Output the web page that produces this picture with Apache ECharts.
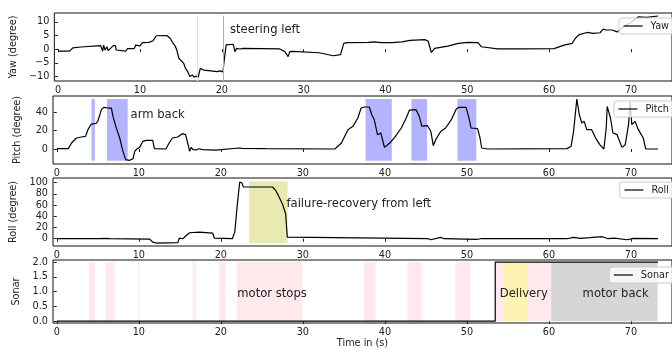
<!DOCTYPE html>
<html><head><meta charset="utf-8">
<script src="https://cdn.jsdelivr.net/npm/echarts@6/dist/echarts.min.js"></script>
<style>html,body{margin:0;padding:0;background:#fff}#c{width:672px;height:349px}</style>
</head><body><div id="c"></div>
<script>
// ---------------- data ----------------
const xTicks = [0, 10, 20, 30, 40, 50, 60, 70];
const yawTicks = [-10, -5, 0, 5, 10];
const pitchTicks = [0, 20, 40];
const rollTicks = [0, 20, 40, 60, 80, 100];
const sonarTicks = [0, 0.5, 1.0, 1.5, 2.0];

const yawData = [[0,-0.67],[1.4,-0.7],[1.8,0.5],[2.8,0.8],[5.2,1.3],[5.44,-0.7],[5.56,1.5],[5.73,-0.3],[5.97,0.9],[6.13,-0.55],[6.46,0.5],[6.74,1.3],[7.0,1.3],[7.1,-0.3],[8.28,-0.67],[8.48,0.2],[9.29,0.2],[9.49,1.5],[10.0,1.2],[10.3,2.4],[11.1,2.5],[11.6,3.1],[12.0,4.9],[13.3,5.0],[13.7,3.9],[14.06,2.1],[14.3,1.2],[14.5,-0.3],[14.75,-3.3],[14.95,-3.9],[15.35,-5.2],[15.56,-7.0],[15.84,-8.2],[16.09,-10.0],[16.4,-9.4],[16.6,-10.2],[16.85,-9.8],[17.1,-10.4],[17.2,-10.0],[17.37,-7.0],[17.78,-7.6],[18.39,-7.8],[19.4,-8.2],[19.8,-7.9],[20.13,-8.3],[20.3,-3.9],[20.53,1.6],[21.4,1.8],[21.6,-0.9],[21.8,0.3],[22.2,0.06],[22.6,0.3],[27.1,0.1],[27.7,-0.9],[28.1,-2.7],[28.3,-0.9],[28.7,-0.8],[31.9,-1.3],[33.6,-2.4],[34.5,-2.0],[34.9,2.1],[35.3,2.4],[37.9,2.5],[38.6,2.7],[39.5,2.4],[40.8,2.4],[42.0,2.7],[43.0,3.2],[44.8,3.5],[45.2,3.0],[45.6,-1.2],[46.0,0.3],[47.6,1.1],[48.9,2.1],[50.1,2.5],[51.3,2.4],[51.7,0.9],[53.7,0.1],[56.5,0.1],[60.6,0.2],[61.8,1.5],[62.8,2.1],[63.2,4.0],[63.6,5.2],[64.6,6.1],[65.4,5.8],[66.2,6.0],[66.6,7.3],[67.0,7.0],[67.7,7.0],[68.3,6.3],[69.1,8.2],[70.3,10.4],[70.9,11.8],[71.9,11.6],[73.3,12.1]];

const pitchData = [[0,0.4],[1.4,0.4],[1.8,6.5],[2.4,11.9],[3.0,13.0],[3.5,13.7],[3.8,20.9],[4.2,27.0],[4.8,27.7],[5.0,30],[5.44,42.5],[5.73,45.0],[6.26,44.3],[6.66,44.3],[6.86,35.0],[7.26,22.7],[7.67,11.9],[8.07,-2.5],[8.4,-11.5],[8.9,-12.2],[9.3,-10.4],[9.5,-2.5],[9.77,0],[10.1,1.8],[10.5,8.3],[10.9,9.4],[11.7,9.4],[11.9,0.4],[13.3,0],[13.7,6.5],[14.1,11.9],[14.75,13.0],[14.95,11.2],[15.3,16.6],[15.7,15.5],[15.96,6.5],[16.2,-2.5],[16.4,1.8],[16.6,-0.7],[16.8,0.8],[17.0,-1.0],[17.3,0.3],[17.8,-0.7],[19.4,-1.1],[19.6,0],[22.2,1.1],[22.4,2.5],[22.6,0.7],[25.5,0.4],[33.6,0],[33.9,0],[34.7,6.5],[35.5,20.9],[36.1,24.5],[36.7,33.5],[37.1,44.3],[37.5,45.4],[38.1,45.4],[38.4,37],[38.7,31.7],[39.1,15.5],[39.3,13.7],[39.5,17.3],[39.95,1.8],[40.6,6.5],[41.2,12.6],[42.0,22.7],[42.6,33.5],[43.0,42.1],[43.8,42.5],[44.2,35],[44.5,24.8],[45.2,25.2],[45.6,19],[45.9,3.6],[46.2,10.1],[46.8,19],[47.4,22.7],[48.1,31.7],[48.7,43.2],[49.0,45],[49.9,45],[50.3,31.7],[50.5,22.7],[51.3,22],[51.6,11.9],[51.8,1.1],[52.5,0],[62.2,0.4],[62.7,2.9],[63.0,19],[63.4,54],[63.7,37],[64.0,28],[64.3,29.9],[64.6,20.9],[65.2,20.9],[65.8,10.1],[66.2,4.7],[66.7,0],[66.98,22.7],[67.1,46],[67.5,33.5],[67.8,17.3],[68.3,15.5],[68.9,1.8],[69.3,4.7],[69.7,26.3],[69.9,51.5],[70.1,26.3],[70.5,29.9],[70.9,20.9],[71.5,11.9],[71.8,0],[73.3,0]];

const rollData = [[0,0],[5.3,0],[5.44,-1.8],[5.73,0.6],[6.5,0],[11.3,-0.6],[11.7,-6],[12.1,-7.7],[14.75,-7.1],[14.95,1.2],[15.15,2.4],[15.4,0],[15.7,4.8],[16.2,10.7],[17.4,11.9],[19.0,10.1],[19.2,1.2],[19.4,0],[21.4,0],[21.7,11.9],[22.0,59.5],[22.3,101],[22.55,100],[22.75,92.3],[22.95,95],[23.2,92.3],[26.3,92.3],[26.7,86],[27.1,74.4],[27.5,62.5],[27.9,44.6],[28.1,3],[28.3,0],[45.3,0],[45.6,-1.8],[46.8,2.4],[47.2,0],[51.3,-1.0],[51.7,0],[62.2,0],[63.0,2.4],[63.8,0.6],[65.0,1.8],[66.5,3.6],[67.2,0],[68.0,1.2],[69.5,-1.8],[70.3,0.6],[73.3,0]];

const sonarData = [[0,0],[53.45,0],[53.45,2],[73.3,2]];

// highlighted intervals [start, end]
const steerLines = [16.97, 20.21];
const pitchSpans = [[4.23,4.64],[6.13,8.64],[37.65,40.84],[43.23,45.13],[48.85,51.15]];
const rollSpans = [[23.45,28.14]];
const motorStopSpans = [[3.91,4.64],[5.97,7.02],[9.9,10.0],[16.57,16.97],[19.8,20.53],[21.95,29.92],[37.44,38.86],[42.74,44.44],[48.57,50.39],[53.46,54.51],[57.43,60.26]];
const deliverySpans = [[54.51,57.43]];
const motorBackSpans = [[60.26,73.24]];

// ---------------- chart ----------------
const FONT = 'DejaVu Sans';
const TXT = '#222';
const fmtMinus = v => String(v).replace('-', '\u2212');

const tops = [13, 96, 178, 260];
const grid = tops.map(t => ({left:53, top:t, width:622, height:68, show:true, borderColor:'#111', borderWidth:1, backgroundColor:'transparent'}));

function xa(i, name) {
  const o = {type:'value', gridIndex:i, min:-0.46, max:75,
    axisLine:{show:false}, splitLine:{show:false},
    axisTick:{show:true, length:3, customValues:xTicks, lineStyle:{color:'#222'}},
    axisLabel:{customValues:xTicks, fontSize:9.7, color:TXT, fontFamily:FONT, margin:4}};
  if (name) {
    o.name = name; o.nameLocation = 'middle'; o.nameGap = 15;
    o.nameTextStyle = {fontSize:9.7, color:TXT, fontFamily:FONT, verticalAlign:'top'};
  }
  return o;
}
function ya(i, name, min, max, ticks, fmt) {
  return {type:'value', gridIndex:i, min:min, max:max,
    axisLine:{show:false}, splitLine:{show:false},
    axisTick:{show:true, length:3, customValues:ticks, lineStyle:{color:'#222'}},
    axisLabel:{customValues:ticks, fontSize:9.7, color:TXT, fontFamily:FONT, margin:5, formatter:fmt || fmtMinus},
    name:name, nameLocation:'middle', nameGap:31, nameRotate:90,
    nameTextStyle:{fontSize:9.7, color:TXT, fontFamily:FONT}};
}

function spans(list, lo, hi, color) {
  return list.map(s => [{xAxis:s[0], yAxis:lo, itemStyle:{color:color, opacity:1}}, {xAxis:s[1], yAxis:hi}]);
}
function note(x, y, text) {
  return {coord:[x, y], name:text, value:0};
}
const noteStyle = {symbol:'circle', symbolSize:0, silent:true,
  label:{show:true, position:'inside', align:'left', verticalAlign:'middle', formatter:'{b}', fontSize:11.6, color:TXT, fontFamily:FONT}};

const lineBase = {type:'line', symbol:'none', showSymbol:false, animation:false,
  lineStyle:{color:'#000', width:1.2}, itemStyle:{color:'#000'}};

const legendBase = {right:-3, orient:'horizontal', itemWidth:19, itemHeight:10,
  itemStyle:{color:'rgba(0,0,0,0)', borderWidth:0, opacity:0},
  lineStyle:{color:'#000', width:1.2},
  padding:[3,6,3,4], borderColor:'#ccc', borderWidth:1, borderRadius:3,
  backgroundColor:'rgba(255,255,255,0.8)',
  textStyle:{fontSize:9.7, color:TXT, fontFamily:FONT, padding:[0,0,0,3]}};
const legendTops = [18, 101, 182, 267];
const names = ['Yaw', 'Pitch', 'Roll', 'Sonar'];

const option = {
  animation:false,
  grid:grid,
  xAxis:[xa(0), xa(1), xa(2), xa(3, 'Time in (s)')],
  yAxis:[
    ya(0, 'Yaw (degree)', -11.6, 13.2, yawTicks),
    ya(1, 'Pitch (degree)', -16.2, 57.3, pitchTicks),
    ya(2, 'Roll (degree)', -13, 108.4, rollTicks),
    ya(3, 'Sonar', -0.063, 2.07, sonarTicks, v => Number(v).toFixed(1))
  ],
  legend: names.map((n, i) => Object.assign({}, legendBase, {data:[n], top:legendTops[i]})),
  series:[
    Object.assign({}, lineBase, {name:'Yaw', xAxisIndex:0, yAxisIndex:0, data:yawData,
      markLine:{silent:true, symbol:'none', label:{show:false},
        data:[
          [{coord:[steerLines[0], 12.2], lineStyle:{color:'#d3ead3', width:1, type:'solid'}}, {coord:[steerLines[0], -11.6]}],
          [{coord:[steerLines[1], 12.2], lineStyle:{color:'#8cc48c', width:1, type:'solid'}}, {coord:[steerLines[1], -11.6]}]
        ]},
      markPoint:Object.assign({}, noteStyle, {data:[note(21.0, 7.0, 'steering left')]})}),
    Object.assign({}, lineBase, {name:'Pitch', xAxisIndex:1, yAxisIndex:1, data:pitchData,
      markArea:{silent:true, data:spans(pitchSpans, -12.6, 54, '#b3b3ff')},
      markPoint:Object.assign({}, noteStyle, {data:[note(9.0, 37.1, 'arm back')]})}),
    Object.assign({}, lineBase, {name:'Roll', xAxisIndex:2, yAxisIndex:2, data:rollData,
      markArea:{silent:true, data:spans(rollSpans, -8, 102.5, '#e9e9b2')},
      markPoint:Object.assign({}, noteStyle, {data:[note(28.0, 61.4, 'failure-recovery from left')]})}),
    Object.assign({}, lineBase, {name:'Sonar', xAxisIndex:3, yAxisIndex:3, data:sonarData,
      markArea:{silent:true, data:[].concat(
        spans(motorStopSpans, 0, 2, '#ffe9ec'),
        spans(deliverySpans, 0, 2, '#fff3b3'),
        spans(motorBackSpans, 0, 2, '#d6d6d6'))},
      markPoint:Object.assign({}, noteStyle, {data:[
        note(22.0, 0.91, 'motor stops'),
        note(54.0, 0.91, 'Delivery'),
        note(64.1, 0.91, 'motor back')]})})
  ]
};

const chart = echarts.init(document.getElementById('c'), null, {renderer:'canvas'});
chart.setOption(option);
</script>
</body></html>
